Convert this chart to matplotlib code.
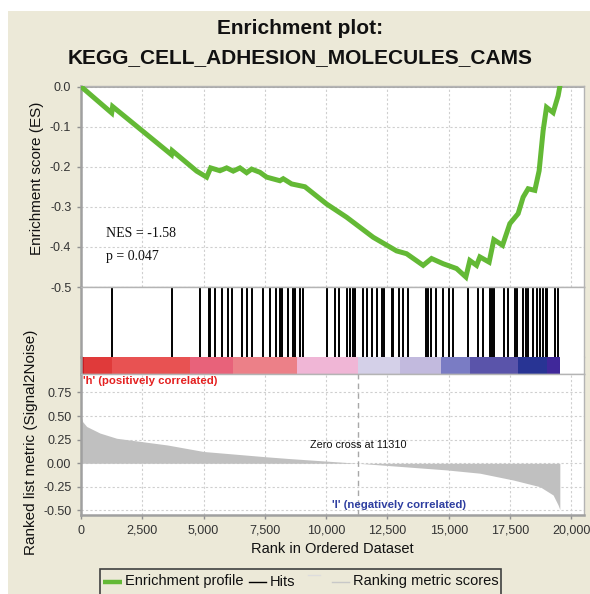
import matplotlib
matplotlib.use("Agg")
import matplotlib.pyplot as plt
from matplotlib.patches import Rectangle
from matplotlib.ticker import FuncFormatter

# ---------------- data ----------------
title_line1 = "Enrichment plot:"
title_line2 = "KEGG_CELL_ADHESION_MOLECULES_CAMS"

es_rank = [0, 1252, 1290, 3690, 3720, 4718, 5126, 5289, 5669, 5942, 6211, 6484,
           6757, 6961, 7300, 7573, 8115, 8250, 8592, 9135, 10020, 10835, 11920,
           12874, 13282, 13959, 14301, 14775, 15321, 15700, 15863, 16137, 16271,
           16650, 16842, 17197, 17495, 17833, 18037, 18241, 18514, 18690, 18853,
           18991, 19261, 19465, 19534]
es_value = [0.0, -0.066, -0.050, -0.170, -0.160, -0.211, -0.226, -0.203, -0.210,
            -0.203, -0.211, -0.203, -0.215, -0.206, -0.214, -0.226, -0.235, -0.230,
            -0.243, -0.250, -0.293, -0.326, -0.376, -0.410, -0.417, -0.446, -0.429,
            -0.442, -0.454, -0.475, -0.434, -0.446, -0.425, -0.438, -0.382, -0.396,
            -0.342, -0.317, -0.276, -0.255, -0.259, -0.210, -0.110, -0.052, -0.065,
            -0.023, 0.0]

hits = [1264, 3711, 4865, 5220, 5281, 5477, 5738, 6007, 6146, 6553, 6782, 6986,
        7434, 7707, 7952, 8136, 8197, 8454, 8645, 8727, 8951, 9065, 10044, 10358,
        10521, 10835, 10970, 11104, 11174, 11488, 11651, 11855, 12059, 12263, 12356,
        12670, 12736, 12980, 13143, 13347, 14069, 14151, 14261, 14465, 14750, 15019,
        15158, 15794, 16202, 16406, 16679, 16761, 16842, 17262, 17425, 17699, 17792,
        18013, 18147, 18241, 18420, 18583, 18718, 18853, 18963, 19024, 19330, 19464]

metric_rank = [0, 70, 230, 775, 1455, 2500, 3520, 5000, 7500, 8500, 11310, 14900,
               16270, 17630, 18720, 19260, 19460, 19534]
metric_value = [0.50, 0.44, 0.39, 0.32, 0.265, 0.229, 0.194, 0.125, 0.07, 0.05, 0.0,
                -0.07, -0.105, -0.177, -0.248, -0.336, -0.44, -0.49]

cbar_bounds = [0, 120, 1264, 4445, 6199, 8808, 11296, 13000, 14670, 15864, 17821, 18991, 19534]
cbar_colors = ["#C81E24", "#E03A3A", "#E85252", "#E8627A", "#EC8088", "#F0B6D6",
               "#D4D0E8", "#C2BADE", "#7A7CC4", "#5A54AA", "#283494", "#40289A"]

zero_cross = 11310
nes_text = "NES = -1.58"
p_text = "p = 0.047"

x_ticks = [0, 2500, 5000, 7500, 10000, 12500, 15000, 17500, 20000]
es_ticks = [0.0, -0.1, -0.2, -0.3, -0.4, -0.5]
metric_ticks = [0.75, 0.50, 0.25, 0.00, -0.25, -0.50]

legend_labels = ["Enrichment profile", "Hits", "Ranking metric scores"]

# ---------------- style ----------------
W, H = 590, 594
BEIGE = "#ECE9D8"
GREEN = "#63B935"
GRID = "#CFCFCF"
SANS = ["Liberation Sans", "DejaVu Sans"]
plt.rcParams["font.family"] = SANS

fig = plt.figure(figsize=(W / 100, H / 100), dpi=100)
fig.patch.set_facecolor(BEIGE)
fig.add_artist(Rectangle((0, 1 - 11 / H), 1, 11 / H, transform=fig.transFigure,
                         facecolor="white", edgecolor="none", zorder=-5))
fig.add_artist(Rectangle((0, 0), 8 / W, 1, transform=fig.transFigure,
                         facecolor="white", edgecolor="none", zorder=-5))


def box(top, bottom, left=81, right=584):
    return [left / W, 1 - bottom / H, (right - left) / W, (bottom - top) / H]


XMAX = 20520


def style_axes(ax):
    ax.set_facecolor("white")
    for s in ["top", "right", "bottom"]:
        ax.spines[s].set_color("#B4B4B4")
        ax.spines[s].set_linewidth(1.0)
    ax.spines["left"].set_color("#A0A0A0")
    ax.spines["left"].set_linewidth(1.8)
    ax.set_xlim(0, XMAX)


# --- ES panel ---
ax_es = fig.add_axes(box(85.7, 287))
style_axes(ax_es)
ax_es.set_ylim(-0.5, 0.002)
ax_es.set_xticks(x_ticks)
ax_es.set_yticks(es_ticks)
ax_es.yaxis.set_major_formatter(FuncFormatter(lambda v, p: f"{v:.1f}"))
ax_es.tick_params(axis="x", length=0, labelbottom=False)
ax_es.tick_params(axis="y", length=3, width=1, color="#909090", labelsize=9,
                  labelcolor="#333333", pad=4)
ax_es.grid(True, color=GRID, linestyle=(0, (2, 2)), linewidth=0.8)
ax_es.axhline(0, color="#A0A0A0", lw=1.2, zorder=2)
ax_es.plot(es_rank, es_value, color=GREEN, lw=3.6, solid_joinstyle="miter", zorder=3)
ax_es.text(1000, -0.366, nes_text, family=["Liberation Serif", "DejaVu Serif"],
           fontsize=10, va="center", ha="left", color="#111111")
ax_es.text(1000, -0.425, p_text, family=["Liberation Serif", "DejaVu Serif"],
           fontsize=10, va="center", ha="left", color="#111111")

# --- hits panel ---
ax_hits = fig.add_axes(box(287, 357))
style_axes(ax_hits)
ax_hits.spines["bottom"].set_visible(False)
ax_hits.set_ylim(0, 1)
ax_hits.set_xticks([])
ax_hits.set_yticks([])
ax_hits.vlines(hits, 0, 1, color="black", lw=1.4)

# --- colour bar ---
ax_cb = fig.add_axes(box(357, 374))
style_axes(ax_cb)
ax_cb.spines["top"].set_visible(False)
ax_cb.set_ylim(0, 1)
ax_cb.set_xticks([])
ax_cb.set_yticks([])
segs = [(cbar_bounds[i], cbar_bounds[i + 1] - cbar_bounds[i]) for i in range(len(cbar_colors))]
ax_cb.broken_barh(segs, (0, 1), facecolors=cbar_colors, edgecolor="none")

# --- ranked metric panel ---
ax_m = fig.add_axes(box(374, 515))
style_axes(ax_m)
ax_m.spines["bottom"].set_color("#A0A0A0")
ax_m.spines["bottom"].set_linewidth(1.8)
ax_m.set_ylim(-0.548, 0.946)
ax_m.set_xticks(x_ticks)
ax_m.set_yticks(metric_ticks)
ax_m.xaxis.set_major_formatter(FuncFormatter(lambda v, p: f"{int(v):,}"))
ax_m.yaxis.set_major_formatter(FuncFormatter(lambda v, p: f"{v:.2f}"))
ax_m.tick_params(axis="both", length=3, width=1, color="#909090", labelsize=9,
                 labelcolor="#333333", pad=4)
ax_m.grid(True, color=GRID, linestyle=(0, (2, 2)), linewidth=0.8)
ax_m.fill_between(metric_rank, metric_value, 0, color="#C0C0C0", lw=0, zorder=2)
ax_m.axvline(zero_cross, color="#A8A8A8", lw=1.0, linestyle=(0, (4, 3)), zorder=3)
ax_m.text(9350, 0.194, f"Zero cross at {zero_cross}", fontsize=7.8, va="center",
          ha="left", color="#111111")
ax_m.text(80, 0.87, "'h' (positively correlated)", fontsize=8.2, fontweight="bold",
          va="center", ha="left", color="#E42020")
ax_m.text(10224, -0.44, "'l' (negatively correlated)", fontsize=8.2, fontweight="bold",
          va="center", ha="left", color="#2E3EA0")
ax_m.set_xlabel("Rank in Ordered Dataset", fontsize=10.5, color="#111111", labelpad=4)

# --- titles & y labels ---
fig.text(300 / W, 1 - 29 / H, title_line1, ha="center", va="center",
         fontsize=15, fontweight="bold", color="#111111")
fig.text(300 / W, 1 - 58 / H, title_line2, ha="center", va="center",
         fontsize=15, fontweight="bold", color="#111111")
fig.text(37.5 / W, 1 - 178 / H, "Enrichment score (ES)", rotation=90, ha="center",
         va="center", fontsize=11, color="#111111")
fig.text(31 / W, 1 - 442 / H, "Ranked list metric (Signal2Noise)", rotation=90,
         ha="center", va="center", fontsize=11, color="#111111")

# --- legend (drawn in pixel space) ---
ov = fig.add_axes([0, 0, 1, 1], facecolor="none")
ov.set_xlim(0, W)
ov.set_ylim(H, 0)
ov.axis("off")
ov.add_patch(Rectangle((99.5, 568.5), 401.5, 40, facecolor=BEIGE, edgecolor="#404040", lw=1.2))
ly = 581.5
ov.plot([103, 121.5], [ly, ly], color=GREEN, lw=3.2, solid_capstyle="butt")
ov.text(125, ly, legend_labels[0], fontsize=10.5, va="center", ha="left", color="#111111")
ov.plot([249, 266], [ly, ly], color="black", lw=1.0)
ov.text(270, ly, legend_labels[1], fontsize=10.5, va="center", ha="left", color="#111111")
ov.plot([308, 320], [575, 575], color="#DDDDDD", lw=1.0)
ov.plot([332, 349], [ly, ly], color="#C8C8C8", lw=1.0)
ov.text(353, ly, legend_labels[2], fontsize=10.5, va="center", ha="left", color="#111111")

fig.savefig("out.png", dpi=100, facecolor=fig.get_facecolor())
